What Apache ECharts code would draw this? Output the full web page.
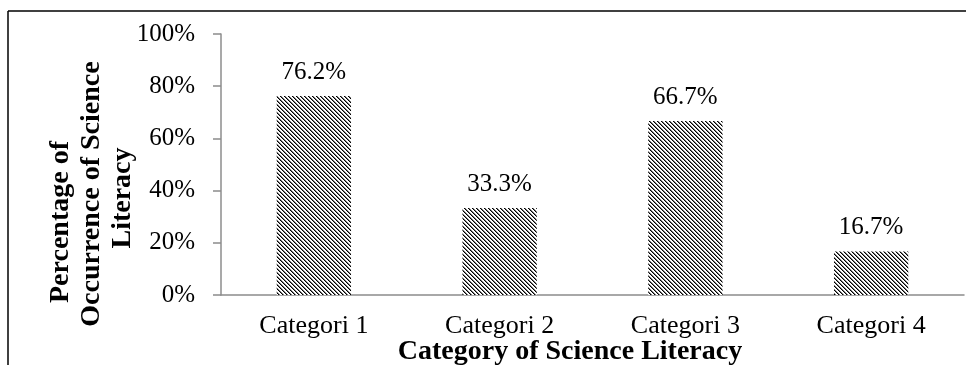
<!DOCTYPE html>
<html>
<head>
<meta charset="utf-8">
<script src="https://cdn.jsdelivr.net/npm/echarts@6/dist/echarts.min.js"></script>
<style>
html, body { margin: 0; padding: 0; background: #fff; }
#main { width: 973px; height: 365px; }
</style>
</head>
<body>
<div id="main"></div>
<script>
var categories = ['Categori 1', 'Categori 2', 'Categori 3', 'Categori 4'];
var percentValues = [76.2, 33.3, 66.7, 16.7];
var yTicks = [0, 20, 40, 60, 80, 100];

// hatch fill like Excel "wide downward diagonal"
function hatch() {
	var n = 4;
	var c = document.createElement('canvas');
	c.width = n; c.height = n;
	var ctx = c.getContext('2d');
	var img = ctx.createImageData(n, n);
	for (var y = 0; y < n; y++) {
		for (var x = 0; x < n; x++) {
			var d = ((x - y) % n + n) % n;
			var v = d === 0 ? 0 : (d === 1 ? 120 : 255);
			var i = (y * n + x) * 4;
			img.data[i] = v; img.data[i + 1] = v; img.data[i + 2] = v; img.data[i + 3] = 255;
		}
	}
	ctx.putImageData(img, 0, 0);
	return c;
}

var font = '"Liberation Serif", "Times New Roman", serif';
var myChart = echarts.init(document.getElementById('main'), null, { renderer: 'canvas' });
var option = {
	animation: false,
	backgroundColor: '#fff',
	grid: { left: 221, right: 9, top: 34, bottom: 70 },
	xAxis: {
		type: 'category',
		data: categories,
		axisLine: { lineStyle: { color: '#8c8c8c', width: 1.5 } },
		axisTick: { show: false },
		axisLabel: { color: '#000', fontFamily: font, fontSize: 26, margin: 18 }
	},
	yAxis: {
		type: 'value',
		min: 0,
		max: 100,
		interval: 20,
		axisLine: { show: true, lineStyle: { color: '#8c8c8c', width: 1.5 } },
		axisTick: { show: true, length: 8, lineStyle: { color: '#8c8c8c', width: 1.5 } },
		splitLine: { show: false },
		axisLabel: {
			color: '#000', fontFamily: font, fontSize: 25, margin: 26,
			formatter: function (v) { return yTicks.indexOf(v) >= 0 ? v + '%' : ''; }
		}
	},
	series: [{
		type: 'bar',
		data: percentValues,
		barWidth: '40%',
		itemStyle: { color: { image: hatch(), repeat: 'repeat' } },
		label: {
			show: true,
			position: 'top',
			distance: 11,
			color: '#000',
			fontFamily: font,
			fontSize: 25,
			formatter: function (p) { return p.value.toFixed(1) + '%'; }
		}
	}],
	graphic: [
		{ type: 'line', shape: { x1: 8, y1: 11, x2: 966, y2: 11 }, style: { stroke: '#000', lineWidth: 1.5 } },
		{ type: 'line', shape: { x1: 8, y1: 11, x2: 8, y2: 365 }, style: { stroke: '#000', lineWidth: 1.5 } },
		{ type: 'text', x: 61, y: 222, rotation: Math.PI / 2,
			style: { text: 'Percentage of', font: 'bold 28px ' + font, fill: '#000', align: 'center', verticalAlign: 'middle' } },
		{ type: 'text', x: 92, y: 194, rotation: Math.PI / 2,
			style: { text: 'Occurrence of Science', font: 'bold 28px ' + font, fill: '#000', align: 'center', verticalAlign: 'middle' } },
		{ type: 'text', x: 123, y: 198, rotation: Math.PI / 2,
			style: { text: 'Literacy', font: 'bold 28px ' + font, fill: '#000', align: 'center', verticalAlign: 'middle' } },
		{ type: 'text', x: 570, y: 352,
			style: { text: 'Category of Science Literacy', font: 'bold 28px ' + font, fill: '#000', align: 'center', verticalAlign: 'middle' } }
	]
};
myChart.setOption(option);
</script>
</body>
</html>
